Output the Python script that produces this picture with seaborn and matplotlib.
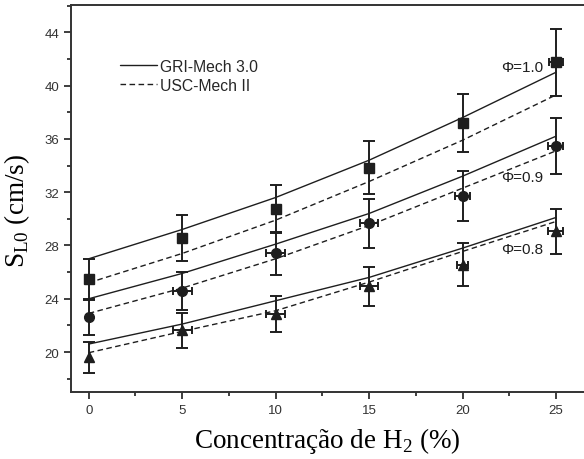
import numpy as np
import pandas as pd
import matplotlib
matplotlib.use("Agg")
import matplotlib.pyplot as plt
import seaborn as sns
from matplotlib.lines import Line2D
from matplotlib.ticker import MultipleLocator

# H2 concentration (%)
h2 = [0, 5, 10, 15, 20, 25]

# model curves (cm/s)
gri_10 = [27.0, 29.2, 31.6, 34.4, 37.6, 41.0]
usc_10 = [25.2, 27.4, 29.9, 32.8, 35.9, 39.3]
gri_09 = [24.0, 25.9, 28.1, 30.4, 33.2, 36.2]
usc_09 = [22.9, 24.8, 27.0, 29.5, 32.3, 35.1]
gri_08 = [20.6, 22.1, 23.85, 25.6, 27.8, 30.1]
usc_08 = [19.95, 21.55, 23.1, 25.25, 27.55, 29.8]

# experimental points
exp_10 = [25.45, 28.55, 30.75, 33.85, 37.2, 41.75]
yerr_10 = [1.5, 1.7, 1.8, 2.0, 2.2, 2.5]
xerr_10 = [0, 0, 0, 0, 0, 0.35]
exp_09 = [22.6, 24.58, 27.4, 29.65, 31.7, 35.5]
yerr_09 = [1.3, 1.45, 1.6, 1.85, 1.87, 2.1]
xerr_09 = [0, 0.5, 0.5, 0.5, 0.4, 0.4]
exp_08 = [19.6, 21.62, 22.82, 24.92, 26.55, 29.05]
yerr_08 = [1.15, 1.3, 1.35, 1.5, 1.6, 1.7]
xerr_08 = [0, 0.5, 0.5, 0.5, 0.3, 0.4]

phi_labels = ["Φ=1.0", "Φ=0.9", "Φ=0.8"]

sns.set_style("ticks")
plt.rcParams['font.family'] = ['Liberation Sans', 'DejaVu Sans']
plt.rcParams['mathtext.fontset'] = 'custom'
plt.rcParams['mathtext.rm'] = 'Liberation Serif'

ink = '#1e1e1e'

rows = []
for phi, g, u in [("1.0", gri_10, usc_10), ("0.9", gri_09, usc_09), ("0.8", gri_08, usc_08)]:
    for x, a, b in zip(h2, g, u):
        rows.append({"h2": x, "sl": a, "phi": phi, "mech": "GRI-Mech 3.0"})
        rows.append({"h2": x, "sl": b, "phi": phi, "mech": "USC-Mech II"})
df = pd.DataFrame(rows)

fig = plt.figure(figsize=(5.84, 4.6), dpi=100)
ax = fig.add_axes([71/584, 1 - 393/460, (584-71)/584, (393-6)/460])

sns.lineplot(data=df, x="h2", y="sl", hue="phi", style="mech",
             palette=[ink, ink, ink], dashes={"GRI-Mech 3.0": "", "USC-Mech II": (4, 2.5)},
             linewidth=1.0, legend=False, ax=ax, estimator=None)

for ys, ye, xe, mk, ms in [(exp_10, yerr_10, xerr_10, 's', 7.5),
                           (exp_09, yerr_09, xerr_09, 'o', 7),
                           (exp_08, yerr_08, xerr_08, '^', 7.5)]:
    ax.errorbar(h2, ys, yerr=ye, fmt='none', ecolor=ink, elinewidth=1.4,
                capsize=4.5, capthick=1.4, zorder=3)
    ax.errorbar(h2, ys, xerr=xe, fmt='none', ecolor=ink, elinewidth=1.4,
                capsize=3, capthick=1.4, zorder=3)
    ax.plot(h2, ys, linestyle='none', marker=mk, markersize=ms, color=ink, zorder=4)

ax.text(24.3, 41.4, phi_labels[0], fontsize=11, color=ink, ha='right', va='center')
ax.text(24.3, 33.15, phi_labels[1], fontsize=11, color=ink, ha='right', va='center')
ax.text(24.3, 27.75, phi_labels[2], fontsize=11, color=ink, ha='right', va='center')

ax.set_xlim(-0.95, 26.5)
ax.set_ylim(17.0, 46.05)
ax.set_xticks([0, 5, 10, 15, 20, 25])
ax.set_yticks([20, 24, 28, 32, 36, 40, 44])
ax.xaxis.set_minor_locator(MultipleLocator(2.5))
ax.yaxis.set_minor_locator(MultipleLocator(2))
ax.tick_params(which='major', direction='out', length=5, width=1.2, colors=ink,
               labelsize=9.5, labelcolor='#333333')
ax.tick_params(which='minor', direction='out', length=3, width=1.2, colors=ink)
ax.spines['right'].set_visible(False)
for s in ['left', 'bottom', 'top']:
    ax.spines[s].set_linewidth(1.4)
    ax.spines[s].set_color('#333333')

ax.set_xlabel("Concentração de H$_\\mathrm{2}$ (%)", family='Liberation Serif',
              fontsize=19.5, color='black')
ax.set_ylabel("S$_\\mathrm{L0}$ (cm/s)", family='Liberation Serif',
              fontsize=19.5, color='black')
ax.xaxis.set_label_coords(0.5, -0.085)
ax.yaxis.set_label_coords(-0.076, 0.47)

handles = [Line2D([], [], color=ink, lw=1.0, ls='-'),
           Line2D([], [], color=ink, lw=1.0, ls=(0, (4, 2.5)))]
ax.legend(handles, ["GRI-Mech 3.0", "USC-Mech II"], loc='upper left',
          bbox_to_anchor=(0.084, 0.877), frameon=False, fontsize=11.3,
          handlelength=2.35, handletextpad=0.2, labelspacing=0.25,
          borderaxespad=0)

fig.savefig("out.png", dpi=100)
